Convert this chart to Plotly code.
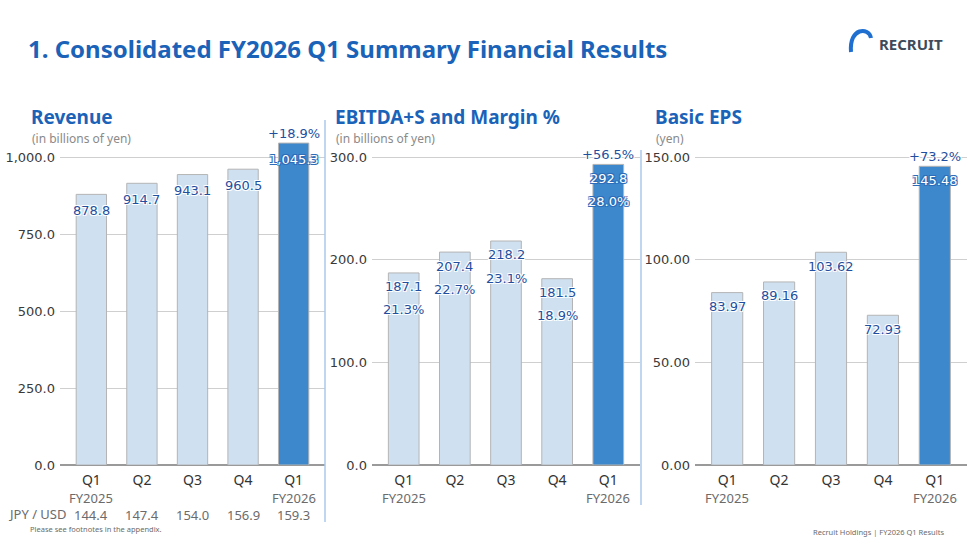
import plotly.graph_objects as go

# ---- data ----
quarters = ["Q1 FY25", "Q2 FY25", "Q3 FY25", "Q4 FY25", "Q1 FY26"]
tick_q = ["Q1", "Q2", "Q3", "Q4", "Q1"]
tick_fy = ["FY2025", "", "", "", "FY2026"]

revenue = [878.8, 914.7, 943.1, 960.5, 1045.3]
revenue_txt = ["878.8", "914.7", "943.1", "960.5", "1,045.3"]
revenue_yoy = "+18.9%"

ebitda = [187.1, 207.4, 218.2, 181.5, 292.8]
ebitda_margin = ["21.3%", "22.7%", "23.1%", "18.9%", "28.0%"]
ebitda_yoy = "+56.5%"

eps = [83.97, 89.16, 103.62, 72.93, 145.48]
eps_yoy = "+73.2%"

jpy_usd = ["144.4", "147.4", "154.0", "156.9", "159.3"]

LIGHT = "#cfe0f1"
DARK = "#3d87cc"
BLUE_TXT = "#1f4f9e"
TITLE_BLUE = "#1a63b8"
NUM_FONT = "DejaVu Sans"
TXT_FONT = "Noto Sans"

W, H = 968, 544          # slide coordinates used for placing texts
FIG_H = 552              # page is photographed slightly squeezed, compensate

bar_colors = [LIGHT] * 4 + [DARK]

fig = go.Figure()

panels = [
    ("x", "y", revenue, [0, 1104], [0, 250, 500, 750, 1000],
     ["0.0", "250.0", "500.0", "750.0", "1,000.0"]),
    ("x2", "y2", ebitda, [0, 331.2], [0, 100, 200, 300],
     ["0.0", "100.0", "200.0", "300.0"]),
    ("x3", "y3", eps, [0, 165.6], [0, 50, 100, 150],
     ["0.00", "50.00", "100.00", "150.00"]),
]

for xa, ya, vals, rng, tv, tt in panels:
    fig.add_trace(go.Bar(
        x=quarters, y=vals, xaxis=xa, yaxis=ya,
        marker=dict(color=bar_colors, line=dict(color="#b4b4b4", width=1)),
        width=0.6, hoverinfo="skip", showlegend=False,
    ))

# value labels (halo via text-shadow)
HALO_W = "-1px -1px 0 #fff, 1px -1px 0 #fff, -1px 1px 0 #fff, 1px 1px 0 #fff"
HALO_B = ("-1px -1px 0 #2c6cb8, 1px -1px 0 #2c6cb8, "
          "-1px 1px 0 #2c6cb8, 1px 1px 0 #2c6cb8")


def label(xa, ya, x, y, text, dark, shift):
    if dark:
        font = dict(family=NUM_FONT, size=13, color="#ffffff", shadow=HALO_B)
    else:
        font = dict(family=NUM_FONT, size=13, color=BLUE_TXT, shadow=HALO_W)
    fig.add_annotation(x=x, y=y, xref=xa, yref=ya, text=text, showarrow=False,
                       yanchor="middle", yshift=shift, font=font)


for i, q in enumerate(quarters):
    label("x", "y", q, revenue[i], revenue_txt[i], i == 4, -16)
    label("x2", "y2", q, ebitda[i], "%.1f" % ebitda[i], i == 4, -14)
    label("x2", "y2", q, ebitda[i], ebitda_margin[i], i == 4, -37)
    label("x3", "y3", q, eps[i], "%.2f" % eps[i], i == 4, -14)

# yoy growth above the latest quarter
for xa, ya, vals, txt in [("x", "y", revenue, revenue_yoy),
                          ("x2", "y2", ebitda, ebitda_yoy),
                          ("x3", "y3", eps, eps_yoy)]:
    fig.add_annotation(x=quarters[4], y=vals[4], xref=xa, yref=ya, text=txt,
                       showarrow=False, yanchor="bottom", yshift=0,
                       font=dict(family=NUM_FONT, size=13, color=BLUE_TXT, shadow=HALO_W))

# fiscal year line under the quarter ticks, every panel
for xa, ya in [("x", "y"), ("x2", "y2"), ("x3", "y3")]:
    for i, q in enumerate(quarters):
        if tick_fy[i]:
            fig.add_annotation(x=q, y=0, xref=xa, yref=ya, text=tick_fy[i],
                               showarrow=False, yanchor="middle", yshift=-33,
                               font=dict(family=TXT_FONT, size=13, color="#6b6b6b"))

# JPY/USD row under revenue
for i, q in enumerate(quarters):
    fig.add_annotation(x=q, y=0, xref="x", yref="y", text=jpy_usd[i],
                       showarrow=False, yanchor="middle", yshift=-50,
                       font=dict(family=TXT_FONT, size=13, color="#6b6b6b"))
fig.add_annotation(x=6 / W, y=(H - 514) / H, xref="paper", yref="paper",
                   text="JPY / USD", showarrow=False, xanchor="left", yanchor="middle",
                   font=dict(family=TXT_FONT, size=13, color="#6b6b6b"))

axis_common = dict(
    showgrid=True, gridcolor="#cfcfcf", gridwidth=1,
    zeroline=True, zerolinecolor="#9a9a9a", zerolinewidth=2,
    tickfont=dict(family=NUM_FONT, size=13, color="#3a3a3a"),
    ticks="", ticklabelstandoff=4, fixedrange=True,
)
xaxis_common = dict(
    type="category", showgrid=False, zeroline=False, showline=False,
    tickvals=quarters, ticktext=tick_q, range=[-0.62, 4.62],
    tickfont=dict(family=TXT_FONT, size=14, color="#333333"),
    ticks="", ticklabelstandoff=5, fixedrange=True,
)

ybot = (H - 465) / H
ytop = (H - 125) / H
x_domains = [(60 / W, 325 / W), (372 / W, 640 / W), (695 / W, 967 / W)]

layout_axes = {}
for k, (xa, ya, vals, rng, tv, tt) in enumerate(panels):
    suffix = "" if k == 0 else str(k + 1)
    layout_axes["xaxis" + suffix] = dict(xaxis_common, domain=list(x_domains[k]),
                                         anchor="y" + suffix)
    layout_axes["yaxis" + suffix] = dict(axis_common, domain=[ybot, ytop], range=rng,
                                         tickvals=tv, ticktext=tt, anchor="x" + suffix)

fig.update_layout(
    width=W, height=FIG_H,
    margin=dict(l=0, r=0, t=0, b=0),
    paper_bgcolor="white", plot_bgcolor="white",
    bargap=0.4,
    **layout_axes,
)


# titles and small texts
def ptext(x, y, text, size, color, bold=False, family=TXT_FONT, anchor="left"):
    fig.add_annotation(x=x / W, y=(H - y) / H, xref="paper", yref="paper",
                       text="<b>" + text + "</b>" if bold else text,
                       showarrow=False, xanchor=anchor, yanchor="middle",
                       font=dict(family=family, size=size, color=color))


ptext(26, 48, "1. Consolidated FY2026 Q1 Summary Financial Results", 24, TITLE_BLUE, bold=True)
ptext(29, 117, "Revenue", 19, TITLE_BLUE, bold=True)
ptext(333, 117, "EBITDA+S and Margin %", 19, TITLE_BLUE, bold=True)
ptext(653, 117, "Basic EPS", 19, TITLE_BLUE, bold=True)
ptext(30, 138, "(in billions of yen)", 12, "#8a8a8a")
ptext(334, 138, "(in billions of yen)", 12, "#8a8a8a")
ptext(654, 138, "(yen)", 12, "#8a8a8a")
ptext(28, 529, "Please see footnotes in the appendix.", 7.5, "#6b6b6b")
ptext(946, 532, "Recruit Holdings | FY2026 Q1 Results", 7.5, "#6b6b6b", anchor="right")

# logo
ptext(945, 44, "<b>RECRUIT</b>", 15, "#3d4b5a", anchor="right")
fig.add_shape(type="path", xref="paper", yref="paper",
              path="M %f %f C %f %f %f %f %f %f" % (
                  851 / W, (H - 52) / H,
                  849 / W, (H - 27) / H,
                  869 / W, (H - 27) / H,
                  871 / W, (H - 38) / H),
              line=dict(color="#1f6fd1", width=4))

# panel separators
fig.add_shape(type="line", xref="paper", yref="paper",
              x0=325 / W, x1=325 / W, y0=(H - 522) / H, y1=(H - 120) / H,
              line=dict(color="#a9c8ea", width=1.5))
fig.add_shape(type="line", xref="paper", yref="paper",
              x0=641 / W, x1=641 / W, y0=(H - 505) / H, y1=(H - 150) / H,
              line=dict(color="#a9c8ea", width=1.5))

fig.write_html("out.html", config={"displayModeBar": False},
               post_script="document.body.style.margin='0';"
                           "document.body.style.overflow='hidden';")
